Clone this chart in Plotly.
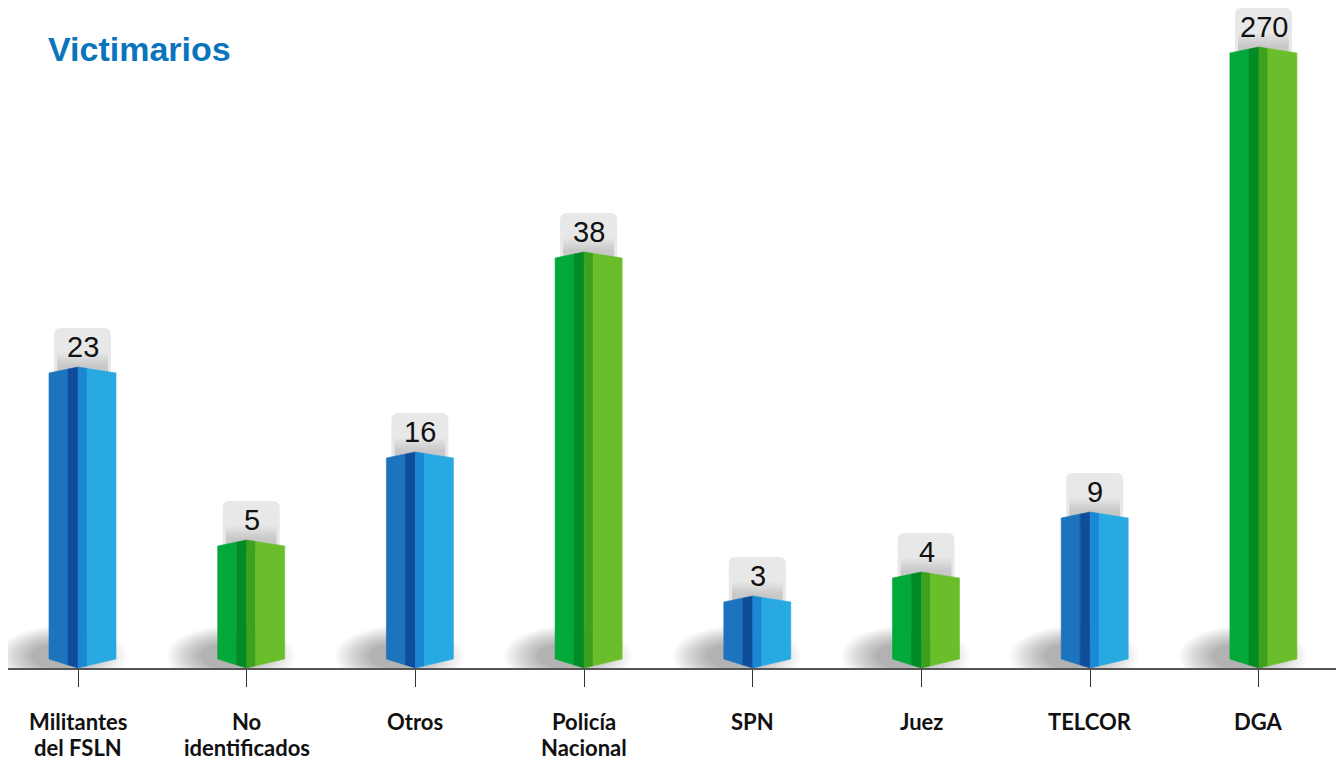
import plotly.graph_objects as go

# ---- data ----
categorias = [["Militantes", "del FSLN"], ["No", "identificados"], ["Otros"], ["Policía", "Nacional"],
              ["SPN"], ["Juez"], ["TELCOR"], ["DGA"]]
valores = [23, 5, 16, 38, 3, 4, 9, 270]
# visual bar heights as drawn in the infographic (not proportional to values)
alturas = [301, 128, 216, 416, 72, 96, 156, 621]
colores_serie = ["azul", "verde", "azul", "verde", "azul", "verde", "azul", "verde"]

# ---- styles ----
PALETAS = {
    "azul": ["#1b74bd", "#0f4d9b", "#1a88d3", "#29a9e2"],
    "verde": ["#03a83a", "#028a24", "#3ea11d", "#6bbe2b"],
}
W, Hfig = 1338, 762
ML, MR, MT, MB = 8, 2, 0, 94
plot_w = W - ML - MR
plot_h = Hfig - MT - MB
x_lo, x_hi = -0.415, 7.457
PX = plot_w / (x_hi - x_lo)       # pixels per category unit
LEFT_W, RIGHT_W = 29.0, 38.0      # face widths in px
PEAK, VDEPTH = 6.0, 9.0

def top_h(H, dx):
    w = LEFT_W if dx < 0 else RIGHT_W
    return H - PEAK * abs(dx) / w

def bot_h(dx):
    w = LEFT_W if dx < 0 else RIGHT_W
    return VDEPTH * abs(dx) / w

fig = go.Figure()
shapes = []
annotations = []

strips = [(-29, -10), (-10, 0), (0, 9), (9, 38)]

for i, (v, H, c) in enumerate(zip(valores, alturas, colores_serie)):
    # base shadow (many faint layered ellipses to imitate a blur)
    n = 14
    for k in range(n):
        t = k / (n - 1)
        rx = 64 - 40 * t
        ry = 30 - 18 * t
        cx, cy = -16 - 6 * t, 12
        shapes.append(dict(type="circle", xref="x", yref="y", layer="below",
                           xsizemode="pixel", ysizemode="pixel", xanchor=i, yanchor=0,
                           x0=cx - rx, x1=cx + rx, y0=cy - ry, y1=cy + ry,
                           fillcolor="rgba(0,0,0,0.022)", line=dict(width=0)))
    # label box (rounded, partly hidden by the bar)
    bx0, bx1, by0, by1, r = -24, 33, -12, 39, 7
    path = (f"M {bx0+r},{by0} L {bx1-r},{by0} Q {bx1},{by0} {bx1},{by0+r} "
            f"L {bx1},{by1-r} Q {bx1},{by1} {bx1-r},{by1} L {bx0+r},{by1} "
            f"Q {bx0},{by1} {bx0},{by1-r} L {bx0},{by0+r} Q {bx0},{by0} {bx0+r},{by0} Z")
    shapes.append(dict(type="path", xref="x", yref="y", layer="below",
                       xsizemode="pixel", ysizemode="pixel", xanchor=i, yanchor=H,
                       path=path, fillcolor="#e8e8e8", line=dict(width=0)))
    # soft shade at the bottom of the box
    m = 8
    for k in range(m):
        h = 14 - 12 * k / (m - 1)
        shapes.append(dict(type="rect", xref="x", yref="y", layer="below",
                           xsizemode="pixel", ysizemode="pixel", xanchor=i, yanchor=H,
                           x0=bx0 + 3, x1=bx1 - 3, y0=-6, y1=h,
                           fillcolor="rgba(0,0,0,0.014)", line=dict(width=0)))
    # bar faces
    pal = PALETAS[c]
    for (a, b), col in zip(strips, pal):
        xs = [i + a / PX, i + b / PX, i + b / PX, i + a / PX, i + a / PX]
        ys = [bot_h(a), bot_h(b), top_h(H, b), top_h(H, a), bot_h(a)]
        fig.add_trace(go.Scatter(x=xs, y=ys, mode="lines", fill="toself",
                                 fillcolor=col, line=dict(color=col, width=0.6),
                                 hoverinfo="skip", showlegend=False))
    # value label
    annotations.append(dict(x=i, y=H, xref="x", yref="y", text=str(v), showarrow=False,
                            xshift=5, yshift=20, yanchor="middle",
                            font=dict(family="Liberation Sans, Arial", size=29, color="#111111")))
    # category label, one annotation per line
    for j, linea in enumerate(categorias[i]):
        annotations.append(dict(x=i, y=0, xref="x", yref="y", text=f"<b>{linea}</b>",
                                showarrow=False, yanchor="middle", yshift=-53 - 26 * j,
                                borderpad=0,
                                font=dict(family="Lato, Open Sans", size=22, color="#111111")))

fig.update_layout(
    width=W, height=Hfig,
    margin=dict(l=ML, r=MR, t=MT, b=MB),
    paper_bgcolor="white", plot_bgcolor="white",
    shapes=shapes, annotations=annotations,
    title=dict(text="<b>Victimarios</b>", x=48 / W, xanchor="left", xref="container",
               y=1 - 49 / Hfig, yanchor="middle", yref="container",
               font=dict(family="Liberation Sans, Arial", size=34, color="#0a74bc")),
    xaxis=dict(range=[x_lo, x_hi], tickmode="array", tickvals=list(range(len(valores))),
               showticklabels=False, ticks="outside", ticklen=17, tickwidth=1.3,
               tickcolor="#333333", showline=True, linecolor="#555555", linewidth=1.5,
               showgrid=False, zeroline=False, fixedrange=True),
    yaxis=dict(range=[0, plot_h], visible=False, showgrid=False, zeroline=False,
               fixedrange=True),
)

fig.write_html("out.html", config={"displayModeBar": False},
               post_script="document.body.style.margin='0';document.body.style.overflow='hidden';")
